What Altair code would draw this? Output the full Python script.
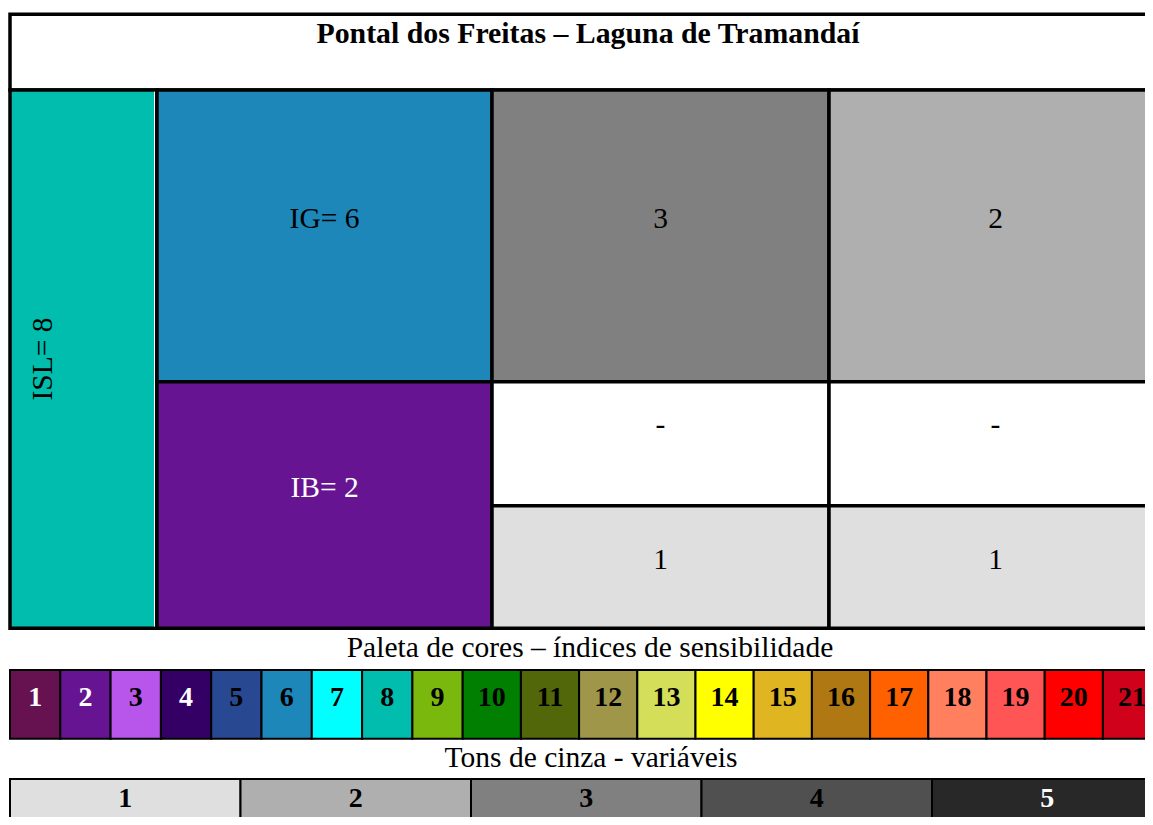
import altair as alt
import pandas as pd

# ---------------- data ----------------
TITLE = "Pontal dos Freitas – Laguna de Tramandaí"
INDEX_NAMES = ["ISL", "IG", "IB"]
INDEX_VALUES = [8, 6, 2]
VAR_IG = ["3", "2"]
VAR_IB_TOP = ["-", "-"]
VAR_IB_BOTTOM = ["1", "1"]

PALETTE_TITLE = "Paleta de cores – índices de sensibilidade"
PALETTE_LABELS = [1, 2, 3, 4, 5, 6, 7, 8, 9, 10, 11, 12, 13, 14, 15, 16, 17, 18, 19, 20, 21]
PALETTE_COLORS = ["#661150", "#661492", "#B856EC", "#350066", "#294892", "#1C87B8", "#00FFFF",
                  "#00BDAD", "#7AB80E", "#007F00", "#52660A", "#A0964A", "#D4DE58", "#FFFF00",
                  "#DFB522", "#B07812", "#FF6000", "#FF7F5F", "#FF5555", "#FF0000", "#D0021B"]
PALETTE_TEXT_COLORS = ["white", "white", "black", "white"] + ["black"] * 17

GREY_TITLE = "Tons de cinza - variáveis"
GREY_LABELS = [1, 2, 3, 4, 5]
GREY_COLORS = ["#DFDFDF", "#AFAFAF", "#808080", "#505050", "#282828"]
GREY_TEXT_COLORS = ["black", "black", "black", "black", "white"]

# ---------------- layout (page pixels) ----------------
X_MAIN = [10, 157, 492, 829, 1166]
Y_TITLE = [14.3, 90]
Y_MAIN = [90, 381.7, 505.8, 628.3]
TITLE_BASE = 43
ISL_TEXT = (52, 359)
IG_BASE, IB_BASE, DASH_BASE, ONE_BASE = 228, 496.5, 434, 569
PAL_TITLE_BASE, GREY_TITLE_BASE = 657, 767
PAL_Y = [670, 738.7]
PAL_BASE = 706
PAL_X0, PAL_W1, PAL_W2 = 10, 50.3, 58.2
GREY_Y = [779, 834]
GREY_BASE = 806.5
GREY_X0, GREY_W = 10, 230.5

FONT = "Liberation Serif"
PAGE_X = [8, 1145]
PAGE_Y = [8, 817]


def pal_color(v):
    return PALETTE_COLORS[PALETTE_LABELS.index(v)]


def grey_color(v):
    if v == "-":
        return "white"
    return GREY_COLORS[GREY_LABELS.index(int(v))]


def mid(a, b):
    return (a + b) / 2


# main table cells
main_rows = []
main_rows.append(dict(x0=X_MAIN[0], x1=X_MAIN[-1], y0=Y_TITLE[0], y1=Y_TITLE[1], fill="white"))
isl, ig, ib = INDEX_VALUES
main_rows.append(dict(x0=X_MAIN[0], x1=X_MAIN[1], y0=Y_MAIN[0], y1=Y_MAIN[3], fill=pal_color(isl)))
main_rows.append(dict(x0=X_MAIN[1], x1=X_MAIN[2], y0=Y_MAIN[0], y1=Y_MAIN[1], fill=pal_color(ig)))
main_rows.append(dict(x0=X_MAIN[1], x1=X_MAIN[2], y0=Y_MAIN[1], y1=Y_MAIN[3], fill=pal_color(ib)))

texts = []
texts.append(dict(tx=mid(X_MAIN[1], X_MAIN[2]), ty=IG_BASE, label=f"{INDEX_NAMES[1]}= {ig}", tc="black"))
texts.append(dict(tx=mid(X_MAIN[1], X_MAIN[2]), ty=IB_BASE, label=f"{INDEX_NAMES[2]}= {ib}", tc="white"))

for j in range(2):
    xa, xb = X_MAIN[2 + j], X_MAIN[3 + j]
    for vals, (ya, yb), base in [(VAR_IG, (Y_MAIN[0], Y_MAIN[1]), IG_BASE),
                                 (VAR_IB_TOP, (Y_MAIN[1], Y_MAIN[2]), DASH_BASE),
                                 (VAR_IB_BOTTOM, (Y_MAIN[2], Y_MAIN[3]), ONE_BASE)]:
        v = vals[j]
        main_rows.append(dict(x0=xa, x1=xb, y0=ya, y1=yb, fill=grey_color(v)))
        texts.append(dict(tx=mid(xa, min(xb, 1162)), ty=base, label=v, tc="black"))

main_df = pd.DataFrame(main_rows)
text_df = pd.DataFrame(texts)
isl_df = pd.DataFrame([dict(tx=ISL_TEXT[0], ty=ISL_TEXT[1], label=f"{INDEX_NAMES[0]}= {isl}", tc="black")])
white_gap_df = pd.DataFrame([dict(x0=X_MAIN[1] - 2.5, y0=Y_MAIN[0] + 1.7, y1=Y_MAIN[3] - 1.7)])

title_df = pd.DataFrame([
    dict(tx=588, ty=TITLE_BASE, label=TITLE, tc="black"),
])
subtitle_df = pd.DataFrame([
    dict(tx=590, ty=PAL_TITLE_BASE, label=PALETTE_TITLE, tc="black"),
    dict(tx=591, ty=GREY_TITLE_BASE, label=GREY_TITLE, tc="black"),
])

# palette cells
pal_rows = []
x = PAL_X0
for lab, col, tcol in zip(PALETTE_LABELS, PALETTE_COLORS, PALETTE_TEXT_COLORS):
    w = PAL_W1 if len(str(lab)) == 1 else PAL_W2
    pal_rows.append(dict(x0=x, x1=x + w, y0=PAL_Y[0], y1=PAL_Y[1], fill=col,
                         tx=x + w / 2, ty=PAL_BASE, label=str(lab), tc=tcol))
    x += w
for i, (lab, col, tcol) in enumerate(zip(GREY_LABELS, GREY_COLORS, GREY_TEXT_COLORS)):
    xa = GREY_X0 + i * GREY_W
    pal_rows.append(dict(x0=xa, x1=xa + GREY_W, y0=GREY_Y[0], y1=GREY_Y[1], fill=col,
                         tx=xa + GREY_W / 2, ty=GREY_BASE, label=str(lab), tc=tcol))
pal_df = pd.DataFrame(pal_rows)

XS = alt.Scale(domain=PAGE_X, nice=False, zero=False)
YS = alt.Scale(domain=PAGE_Y, nice=False, zero=False, reverse=True)


def rects(df, sw):
    return alt.Chart(df).mark_rect(stroke="black", strokeWidth=sw).encode(
        x=alt.X("x0:Q", scale=XS, axis=None),
        x2="x1:Q",
        y=alt.Y("y0:Q", scale=YS, axis=None),
        y2="y1:Q",
        fill=alt.Fill("fill:N", scale=None),
    )


def labels(df, size, weight="normal", angle=0):
    return alt.Chart(df).mark_text(font=FONT, fontSize=size, fontWeight=weight, align="center",
                                   baseline="alphabetic", angle=angle).encode(
        x=alt.X("tx:Q", scale=XS, axis=None),
        y=alt.Y("ty:Q", scale=YS, axis=None),
        text="label:N",
        color=alt.Color("tc:N", scale=None),
    )


gap = alt.Chart(white_gap_df).mark_rule(color="white", strokeWidth=1).encode(
    x=alt.X("x0:Q", scale=XS, axis=None),
    y=alt.Y("y0:Q", scale=YS, axis=None),
    y2="y1:Q",
)

chart = alt.layer(
    rects(main_df, 3.5),
    gap,
    rects(pal_df, 2),
    labels(title_df, 29.8, "bold"),
    labels(text_df, 29.5),
    labels(isl_df, 29.5, angle=270),
    labels(subtitle_df, 29.5),
    labels(pal_df, 28, "bold"),
).properties(
    width=PAGE_X[1] - PAGE_X[0], height=PAGE_Y[1] - PAGE_Y[0], padding=0,
    autosize=alt.AutoSizeParams(type="none"),
).configure_view(strokeWidth=0)

chart.save("out.html", embed_options={"renderer": "svg", "actions": False})
